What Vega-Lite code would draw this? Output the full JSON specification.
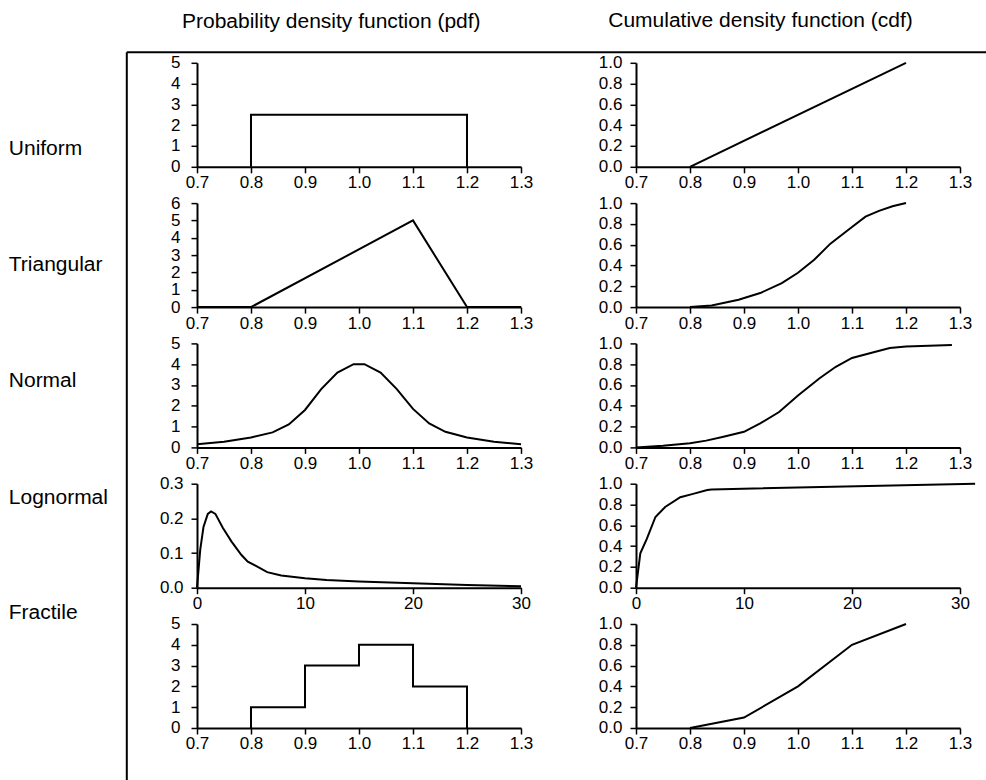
{
  "$schema": "https://vega.github.io/schema/vega-lite/v6.json",
  "padding": {"left": 8, "top": 9.8, "right": 0, "bottom": 0},
  "background": "white",
  "columns": 2,
  "spacing": {"row": 36.3, "column": 115},
  "bounds": "flush",
  "config": {
    "view": {"stroke": null},
    "font": "Liberation Sans",
    "axis": {"domainColor": "black", "domainWidth": 2, "tickColor": "black", "tickWidth": 1.5, "tickSize": 6, "labelColor": "black", "labelFont": "Liberation Sans", "labelFontSize": 17, "grid": false, "labelFlush": false, "labelOverlap": false, "labelBound": false},
    "axisX": {"labelPadding": 2},
    "axisY": {"labelPadding": 8},
    "line": {"color": "black", "strokeWidth": 2}
  },
  "concat": [
    {
      "width": 324, "height": 104,
      "title": {"text": "Probability density function (pdf)", "frame": "group", "anchor": "middle", "dx": -27.7, "offset": 2.7, "baseline": "alphabetic", "fontSize": 21, "fontWeight": "normal", "font": "Liberation Sans", "color": "black"},
      "layer": [
        {
          "data": {"values": [{"i": 0, "x": 0.8, "y": 0}, {"i": 1, "x": 0.8, "y": 2.5}, {"i": 2, "x": 1.2, "y": 2.5}, {"i": 3, "x": 1.2, "y": 0}]},
          "mark": "line",
          "encoding": {
            "x": {"field": "x", "type": "quantitative", "scale": {"domain": [0.7, 1.3], "nice": false, "zero": false}, "axis": {"orient": "bottom", "values": [0.7, 0.8, 0.9, 1.0, 1.1, 1.2, 1.3], "format": ".1f", "title": null}},
            "y": {"field": "y", "type": "quantitative", "scale": {"domain": [0, 5], "nice": false}, "axis": {"orient": "left", "labelPadding": 11, "values": [0, 1, 2, 3, 4, 5], "format": "d", "title": "Uniform", "titleAngle": 0, "titleAlign": "left", "titleBaseline": "middle", "titleX": -188.7, "titleY": 86, "titleFontSize": 21, "titleFontWeight": "normal", "titleColor": "black", "titleFont": "Liberation Sans"}},
            "order": {"field": "i"}
          }
        },
        {
          "data": {"values": [{"v": 0}]},
          "mark": {"type": "point", "opacity": 0},
          "encoding": {
            "x": {"field": "v", "type": "quantitative", "scale": {"domain": [0, 1], "range": [-70.7, 789.3]}, "axis": {"orient": "top", "offset": 11, "ticks": false, "labels": false, "title": null}},
            "y": {"field": "v", "type": "quantitative", "scale": {"domain": [0, 1], "range": [718, -11]}, "axis": {"orient": "left", "offset": 70.7, "ticks": false, "labels": false, "title": null}}
          }
        }
      ],
      "resolve": {"scale": {"x": "independent", "y": "independent"}, "axis": {"x": "independent", "y": "independent"}}
    },
    {
      "width": 324, "height": 104,
      "title": {"text": "Cumulative density function (cdf)", "frame": "group", "anchor": "middle", "dx": -37.5, "offset": 5.95, "baseline": "alphabetic", "fontSize": 21, "fontWeight": "normal", "font": "Liberation Sans", "color": "black"},
      "data": {"values": [{"x": 0.8, "y": 0}, {"x": 1.2, "y": 1}]},
      "mark": "line",
      "encoding": {
        "x": {"field": "x", "type": "quantitative", "scale": {"domain": [0.7, 1.3], "nice": false, "zero": false}, "axis": {"values": [0.7, 0.8, 0.9, 1.0, 1.1, 1.2, 1.3], "format": ".1f", "title": null}},
        "y": {"field": "y", "type": "quantitative", "scale": {"domain": [0, 1], "nice": false}, "axis": {"values": [0, 0.2, 0.4, 0.6, 0.8, 1.0], "format": ".1f", "title": null}}
      }
    },
    {
      "width": 324, "height": 104,
      "data": {"values": [{"x": 0.7, "y": 0}, {"x": 0.8, "y": 0}, {"x": 1.1, "y": 5}, {"x": 1.2, "y": 0}, {"x": 1.3, "y": 0}]},
      "mark": "line",
      "encoding": {
        "x": {"field": "x", "type": "quantitative", "scale": {"domain": [0.7, 1.3], "nice": false, "zero": false}, "axis": {"values": [0.7, 0.8, 0.9, 1.0, 1.1, 1.2, 1.3], "format": ".1f", "title": null}},
        "y": {"field": "y", "type": "quantitative", "scale": {"domain": [0, 6], "nice": false}, "axis": {"labelPadding": 11, "values": [0, 1, 2, 3, 4, 5, 6], "format": "d", "title": "Triangular", "titleAngle": 0, "titleAlign": "left", "titleBaseline": "middle", "titleX": -188.7, "titleY": 61.7, "titleFontSize": 21, "titleFontWeight": "normal", "titleColor": "black", "titleFont": "Liberation Sans"}}
      }
    },
    {
      "width": 324, "height": 104,
      "data": {"values": [{"x": 0.8, "y": 0}, {"x": 0.84, "y": 0.015}, {"x": 0.89, "y": 0.07}, {"x": 0.93, "y": 0.135}, {"x": 0.97, "y": 0.23}, {"x": 1.0, "y": 0.33}, {"x": 1.03, "y": 0.455}, {"x": 1.06, "y": 0.61}, {"x": 1.1, "y": 0.77}, {"x": 1.125, "y": 0.87}, {"x": 1.15, "y": 0.925}, {"x": 1.175, "y": 0.97}, {"x": 1.2, "y": 1.0}]},
      "mark": "line",
      "encoding": {
        "x": {"field": "x", "type": "quantitative", "scale": {"domain": [0.7, 1.3], "nice": false, "zero": false}, "axis": {"values": [0.7, 0.8, 0.9, 1.0, 1.1, 1.2, 1.3], "format": ".1f", "title": null}},
        "y": {"field": "y", "type": "quantitative", "scale": {"domain": [0, 1], "nice": false}, "axis": {"values": [0, 0.2, 0.4, 0.6, 0.8, 1.0], "format": ".1f", "title": null}}
      }
    },
    {
      "width": 324, "height": 104,
      "data": {"values": [{"x": 0.7, "y": 0.15}, {"x": 0.75, "y": 0.27}, {"x": 0.8, "y": 0.48}, {"x": 0.84, "y": 0.72}, {"x": 0.87, "y": 1.1}, {"x": 0.9, "y": 1.8}, {"x": 0.93, "y": 2.8}, {"x": 0.96, "y": 3.6}, {"x": 0.99, "y": 4.0}, {"x": 1.01, "y": 4.0}, {"x": 1.04, "y": 3.6}, {"x": 1.07, "y": 2.8}, {"x": 1.1, "y": 1.85}, {"x": 1.13, "y": 1.15}, {"x": 1.16, "y": 0.75}, {"x": 1.2, "y": 0.48}, {"x": 1.25, "y": 0.27}, {"x": 1.3, "y": 0.15}]},
      "mark": "line",
      "encoding": {
        "x": {"field": "x", "type": "quantitative", "scale": {"domain": [0.7, 1.3], "nice": false, "zero": false}, "axis": {"values": [0.7, 0.8, 0.9, 1.0, 1.1, 1.2, 1.3], "format": ".1f", "title": null}},
        "y": {"field": "y", "type": "quantitative", "scale": {"domain": [0, 5], "nice": false}, "axis": {"labelPadding": 11, "values": [0, 1, 2, 3, 4, 5], "format": "d", "title": "Normal", "titleAngle": 0, "titleAlign": "left", "titleBaseline": "middle", "titleX": -188.7, "titleY": 37.4, "titleFontSize": 21, "titleFontWeight": "normal", "titleColor": "black", "titleFont": "Liberation Sans"}}
      }
    },
    {
      "width": 324, "height": 104,
      "data": {"values": [{"x": 0.7, "y": 0.0}, {"x": 0.75, "y": 0.015}, {"x": 0.8, "y": 0.04}, {"x": 0.83, "y": 0.065}, {"x": 0.86, "y": 0.1}, {"x": 0.9, "y": 0.15}, {"x": 0.93, "y": 0.23}, {"x": 0.965, "y": 0.34}, {"x": 1.0, "y": 0.5}, {"x": 1.04, "y": 0.665}, {"x": 1.07, "y": 0.775}, {"x": 1.1, "y": 0.86}, {"x": 1.14, "y": 0.915}, {"x": 1.17, "y": 0.955}, {"x": 1.2, "y": 0.97}, {"x": 1.285, "y": 0.985}]},
      "mark": "line",
      "encoding": {
        "x": {"field": "x", "type": "quantitative", "scale": {"domain": [0.7, 1.3], "nice": false, "zero": false}, "axis": {"values": [0.7, 0.8, 0.9, 1.0, 1.1, 1.2, 1.3], "format": ".1f", "title": null}},
        "y": {"field": "y", "type": "quantitative", "scale": {"domain": [0, 1], "nice": false}, "axis": {"values": [0, 0.2, 0.4, 0.6, 0.8, 1.0], "format": ".1f", "title": null}}
      }
    },
    {
      "width": 324, "height": 104,
      "data": {"values": [{"x": 0, "y": 0}, {"x": 0.3, "y": 0.11}, {"x": 0.6, "y": 0.175}, {"x": 1.0, "y": 0.213}, {"x": 1.3, "y": 0.22}, {"x": 1.7, "y": 0.213}, {"x": 2.4, "y": 0.172}, {"x": 3.2, "y": 0.133}, {"x": 4.1, "y": 0.095}, {"x": 4.7, "y": 0.075}, {"x": 5.5, "y": 0.062}, {"x": 6.5, "y": 0.045}, {"x": 7.8, "y": 0.035}, {"x": 10, "y": 0.027}, {"x": 12, "y": 0.022}, {"x": 15, "y": 0.018}, {"x": 20, "y": 0.013}, {"x": 25, "y": 0.008}, {"x": 30, "y": 0.004}]},
      "mark": "line",
      "encoding": {
        "x": {"field": "x", "type": "quantitative", "scale": {"domain": [0, 30], "nice": false, "zero": false}, "axis": {"values": [0, 10, 20, 30], "format": "d", "title": null}},
        "y": {"field": "y", "type": "quantitative", "scale": {"domain": [0, 0.3], "nice": false}, "axis": {"values": [0, 0.1, 0.2, 0.3], "format": ".1f", "title": "Lognormal", "titleAngle": 0, "titleAlign": "left", "titleBaseline": "middle", "titleX": -188.7, "titleY": 14.1, "titleFontSize": 21, "titleFontWeight": "normal", "titleColor": "black", "titleFont": "Liberation Sans"}}
      }
    },
    {
      "width": 324, "height": 104,
      "data": {"values": [{"x": 0, "y": 0}, {"x": 0.4, "y": 0.33}, {"x": 1.0, "y": 0.47}, {"x": 1.8, "y": 0.68}, {"x": 2.7, "y": 0.776}, {"x": 4.1, "y": 0.87}, {"x": 5.2, "y": 0.9}, {"x": 6.6, "y": 0.94}, {"x": 7, "y": 0.945}, {"x": 31.4, "y": 1.0}]},
      "mark": "line",
      "encoding": {
        "x": {"field": "x", "type": "quantitative", "scale": {"domain": [0, 30], "nice": false, "zero": false}, "axis": {"values": [0, 10, 20, 30], "format": "d", "title": null}},
        "y": {"field": "y", "type": "quantitative", "scale": {"domain": [0, 1], "nice": false}, "axis": {"values": [0, 0.2, 0.4, 0.6, 0.8, 1.0], "format": ".1f", "title": null}}
      }
    },
    {
      "width": 324, "height": 104,
      "data": {"values": [{"i": 0, "x": 0.8, "y": 0}, {"i": 1, "x": 0.8, "y": 1}, {"i": 2, "x": 0.9, "y": 1}, {"i": 3, "x": 0.9, "y": 3}, {"i": 4, "x": 1.0, "y": 3}, {"i": 5, "x": 1.0, "y": 4}, {"i": 6, "x": 1.1, "y": 4}, {"i": 7, "x": 1.1, "y": 2}, {"i": 8, "x": 1.2, "y": 2}, {"i": 9, "x": 1.2, "y": 0}]},
      "mark": "line",
      "encoding": {
        "x": {"field": "x", "type": "quantitative", "scale": {"domain": [0.7, 1.3], "nice": false, "zero": false}, "axis": {"values": [0.7, 0.8, 0.9, 1.0, 1.1, 1.2, 1.3], "format": ".1f", "title": null}},
        "y": {"field": "y", "type": "quantitative", "scale": {"domain": [0, 5], "nice": false}, "axis": {"labelPadding": 11, "values": [0, 1, 2, 3, 4, 5], "format": "d", "title": "Fractile", "titleAngle": 0, "titleAlign": "left", "titleBaseline": "middle", "titleX": -188.7, "titleY": -11.2, "titleFontSize": 21, "titleFontWeight": "normal", "titleColor": "black", "titleFont": "Liberation Sans"}},
        "order": {"field": "i"}
      }
    },
    {
      "width": 324, "height": 104,
      "data": {"values": [{"x": 0.8, "y": 0}, {"x": 0.9, "y": 0.1}, {"x": 1.0, "y": 0.4}, {"x": 1.1, "y": 0.8}, {"x": 1.2, "y": 1.0}]},
      "mark": "line",
      "encoding": {
        "x": {"field": "x", "type": "quantitative", "scale": {"domain": [0.7, 1.3], "nice": false, "zero": false}, "axis": {"values": [0.7, 0.8, 0.9, 1.0, 1.1, 1.2, 1.3], "format": ".1f", "title": null}},
        "y": {"field": "y", "type": "quantitative", "scale": {"domain": [0, 1], "nice": false}, "axis": {"values": [0, 0.2, 0.4, 0.6, 0.8, 1.0], "format": ".1f", "title": null}}
      }
    }
  ]
}
